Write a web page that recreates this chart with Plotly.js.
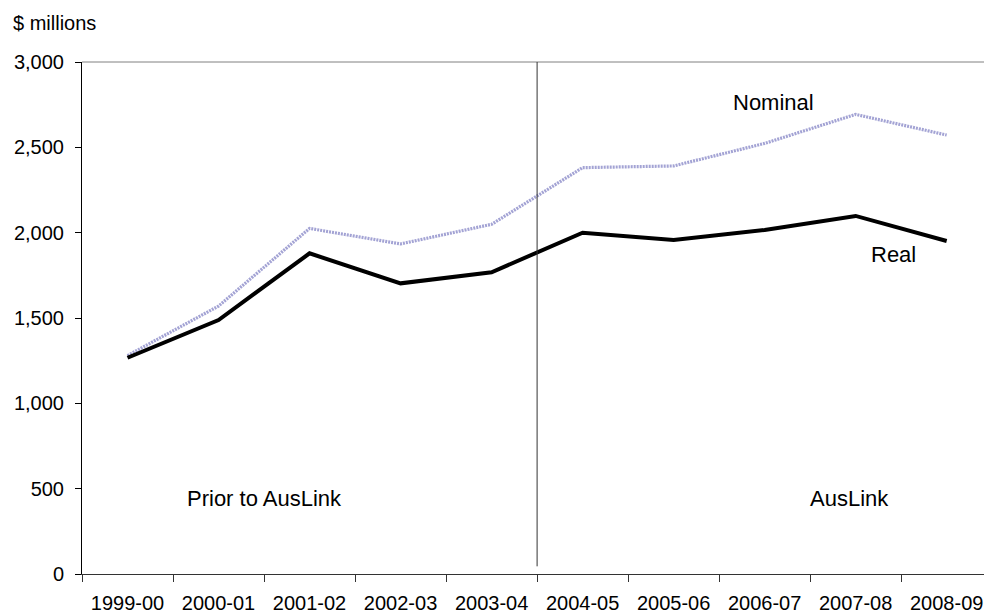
<!DOCTYPE html>
<html>
<head>
<meta charset="utf-8">
<script src="https://cdn.plot.ly/plotly-3.0.1.min.js"></script>
<style>
html,body{margin:0;padding:0;background:#fff;overflow:hidden;}
#chart{width:984px;height:614px;}
</style>
</head>
<body>
<div id="chart"></div>
<script>
const categories = ["1999-00","2000-01","2001-02","2002-03","2003-04","2004-05","2005-06","2006-07","2007-08","2008-09"];
const nominal = [1280, 1570, 2025, 1934, 2049, 2381, 2391, 2523, 2693, 2572];
const real = [1267, 1488, 1879, 1703, 1768, 2000, 1957, 2016, 2098, 1951];
const yTicks = [0, 500, 1000, 1500, 2000, 2500, 3000];
const yTickLabels = ["0", "500", "1,000", "1,500", "2,000", "2,500", "3,000"];

const font = {family: "Liberation Sans, Arial, sans-serif", color: "#000"};

const traces = [
  {
    x: categories, y: nominal, type: "scatter", mode: "lines", name: "Nominal",
    line: {color: "#a3a3d4", width: 3.2, dash: "2px,1px"}, hoverinfo: "x+y"
  },
  {
    x: categories, y: real, type: "scatter", mode: "lines", name: "Real",
    line: {color: "#000000", width: 4}, hoverinfo: "x+y"
  }
];

const layout = {
  width: 984, height: 614,
  margin: {l: 82, r: 0, t: 62, b: 40},
  paper_bgcolor: "#fff", plot_bgcolor: "#fff",
  showlegend: false,
  font: Object.assign({size: 20}, font),
  xaxis: {
    type: "category",
    range: [-0.5, 9.41],
    showgrid: false, zeroline: false,
    showline: true, linecolor: "#333", linewidth: 1,
    ticks: "outside", tickson: "boundaries", ticklen: 7, tickcolor: "#333", tickwidth: 1,
    tickfont: Object.assign({size: 20}, font),
    ticklabelstandoff: 11,
    fixedrange: true
  },
  yaxis: {
    range: [0, 3000],
    tickvals: yTicks, ticktext: yTickLabels,
    showgrid: false, zeroline: false,
    showline: true, linecolor: "#000", linewidth: 1,
    ticks: "outside", ticklen: 6, tickcolor: "#000", tickwidth: 1,
    tickfont: Object.assign({size: 20}, font),
    ticklabelstandoff: 7,
    fixedrange: true
  },
  shapes: [
    {type: "line", xref: "paper", yref: "paper", x0: 0, x1: 1, y0: 1, y1: 1,
     line: {color: "#808080", width: 1}},
    {type: "line", xref: "x", yref: "y", x0: 4.5, x1: 4.5, y0: 45, y1: 3000,
     line: {color: "#333", width: 1}}
  ],
  annotations: [
    {text: "$ millions", xref: "paper", yref: "paper", x: -0.0785, y: 1.05, xanchor: "left", yanchor: "bottom",
     showarrow: false, font: Object.assign({size: 20}, font)},
    {text: "Nominal", xref: "x", yref: "y", x: 7.1, y: 2765, showarrow: false,
     font: Object.assign({size: 22}, font)},
    {text: "Real", xref: "x", yref: "y", x: 8.42, y: 1870, showarrow: false,
     font: Object.assign({size: 22}, font)},
    {text: "Prior to AusLink", xref: "x", yref: "y", x: 1.5, y: 440, showarrow: false,
     font: Object.assign({size: 22}, font)},
    {text: "AusLink", xref: "x", yref: "y", x: 7.93, y: 440, showarrow: false,
     font: Object.assign({size: 22}, font)}
  ]
};

Plotly.newPlot("chart", traces, layout, {displayModeBar: false, staticPlot: true});
</script>
</body>
</html>
